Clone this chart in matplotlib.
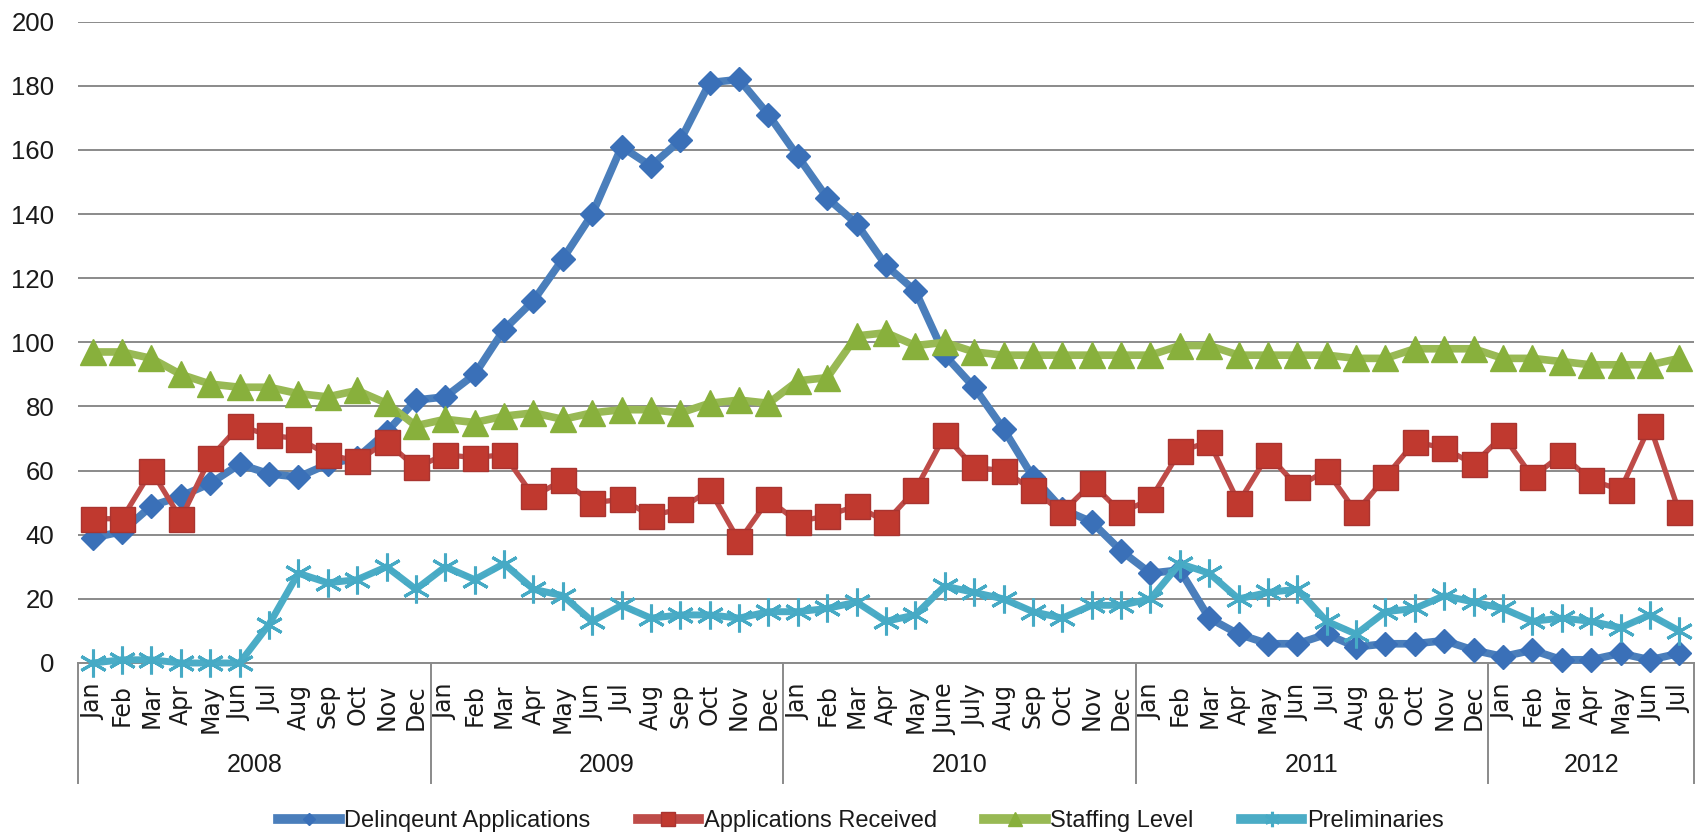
import numpy as np
import matplotlib
matplotlib.use("Agg")
import matplotlib.pyplot as plt
import matplotlib.transforms as mtransforms

# --- Data ---
years = ['2008', '2009', '2010', '2011', '2012']
months_per_year = [12, 12, 12, 12, 7]
month_labels = (
    ['Jan', 'Feb', 'Mar', 'Apr', 'May', 'Jun', 'Jul', 'Aug', 'Sep', 'Oct', 'Nov', 'Dec'] +
    ['Jan', 'Feb', 'Mar', 'Apr', 'May', 'Jun', 'Jul', 'Aug', 'Sep', 'Oct', 'Nov', 'Dec'] +
    ['Jan', 'Feb', 'Mar', 'Apr', 'May', 'June', 'July', 'Aug', 'Sep', 'Oct', 'Nov', 'Dec'] +
    ['Jan', 'Feb', 'Mar', 'Apr', 'May', 'Jun', 'Jul', 'Aug', 'Sep', 'Oct', 'Nov', 'Dec'] +
    ['Jan', 'Feb', 'Mar', 'Apr', 'May', 'Jun', 'Jul']
)
y_ticks = [0, 20, 40, 60, 80, 100, 120, 140, 160, 180, 200]

delinquent = [39, 41, 49, 52, 56, 62, 59, 58, 62, 64, 72, 82,
              83, 90, 104, 113, 126, 140, 161, 155, 163, 181, 182, 171,
              158, 145, 137, 124, 116, 96, 86, 73, 58, 48, 44, 35,
              28, 29, 14, 9, 6, 6, 9, 5, 6, 6, 7, 4,
              2, 4, 1, 1, 3, 1, 3]
received = [45, 45, 60, 45, 64, 74, 71, 70, 65, 63, 69, 61,
            65, 64, 65, 52, 57, 50, 51, 46, 48, 54, 38, 51,
            44, 46, 49, 44, 54, 71, 61, 60, 54, 47, 56, 47,
            51, 66, 69, 50, 65, 55, 60, 47, 58, 69, 67, 62,
            71, 58, 65, 57, 54, 74, 47]
staffing = [97, 97, 95, 90, 87, 86, 86, 84, 83, 85, 81, 74,
            76, 75, 77, 78, 76, 78, 79, 79, 78, 81, 82, 81,
            88, 89, 102, 103, 99, 100, 97, 96, 96, 96, 96, 96,
            96, 99, 99, 96, 96, 96, 96, 95, 95, 98, 98, 98,
            95, 95, 94, 93, 93, 93, 95]
preliminaries = [0, 1, 1, 0, 0, 0, 12, 28, 25, 26, 30, 23,
                 30, 26, 31, 23, 21, 13, 18, 14, 15, 15, 14, 16,
                 16, 17, 19, 13, 15, 24, 22, 20, 16, 14, 18, 18,
                 20, 31, 28, 20, 22, 23, 13, 9, 16, 17, 21, 19,
                 17, 13, 14, 13, 11, 15, 10]

x = np.arange(len(month_labels))

fig = plt.figure(figsize=(16.98, 8.34), dpi=100)
ax = fig.add_axes([78 / 1698, 1 - 663 / 834, (1694 - 78) / 1698, (663 - 21.7) / 834])

grid_color = '#8a8a8a'
text_color = '#1a1a1a'
ax.set_ylim(0, 200)
ax.set_xlim(-0.5, len(x) - 0.5)
ax.set_yticks(y_ticks)
ax.set_yticklabels([str(v) for v in y_ticks], fontsize=18.5, family='Liberation Sans', color=text_color)
ax.yaxis.grid(True, color=grid_color, linewidth=1.4)
ax.set_axisbelow(True)
for s in ['left', 'right', 'top']:
    ax.spines[s].set_visible(False)
ax.spines['bottom'].set_color(grid_color)
ax.spines['bottom'].set_linewidth(1.4)
ax.tick_params(axis='y', length=0, pad=17)

ax.set_xticks(x)
ax.set_xticklabels(month_labels, rotation=90, fontsize=17, family='DejaVu Sans', color=text_color)
ax.tick_params(axis='x', length=0, pad=15)

# series (Excel order: first series at the bottom)
l1, = ax.plot(x, delinquent, color='#4A7EBB', lw=5.5, marker='D', ms=12,
              mfc='#3A70B8', mec='#3A70B8', clip_on=False, zorder=3,
              label='Delinqeunt Applications')
l2, = ax.plot(x, received, color='#BE4B48', lw=3.8, marker='s', ms=18,
              mfc='#C0392F', mec='#A93430', mew=1, clip_on=False, zorder=4,
              label='Applications Received')
l3, = ax.plot(x, staffing, color='#98B954', lw=5.5, marker='^', ms=18.5,
              mfc='#88B03C', mec='#88B03C', clip_on=False, zorder=5,
              label='Staffing Level')
l4, = ax.plot(x, preliminaries, color='#4BACC6', lw=5, marker=(6, 2, 0), ms=20,
              mec='#46AAC5', mew=2.2, clip_on=False, zorder=6,
              label='Preliminaries')

# two-level category axis: year separators and labels
trans = mtransforms.blended_transform_factory(ax.transData, ax.transAxes)
ax_h = 663 - 21.7
sep_bottom = -(783 - 663) / ax_h
year_y = -(765 - 663) / ax_h
start = 0
bounds = [-0.5]
for yr, n in zip(years, months_per_year):
    ax.text(start + (n - 1) / 2, year_y, yr, transform=trans, ha='center', va='center',
            fontsize=18, family='Liberation Sans', color=text_color)
    start += n
    bounds.append(start - 0.5)
for b in bounds:
    ax.plot([b, b], [0, sep_bottom], transform=trans, color=grid_color, lw=1.4, clip_on=False)

leg = fig.legend(handles=[l1, l2, l3, l4], loc='center', bbox_to_anchor=(861 / 1698, 1 - 821 / 834),
                 ncol=4, frameon=False, handlelength=2.6, handletextpad=0.2, columnspacing=2.0,
                 markerscale=0.55, prop={'family': 'Liberation Sans', 'size': 17})
for t in leg.get_texts():
    t.set_color(text_color)
for h in leg.legend_handles:
    h.set_linewidth(7)

fig.savefig('out.png', dpi=100)
